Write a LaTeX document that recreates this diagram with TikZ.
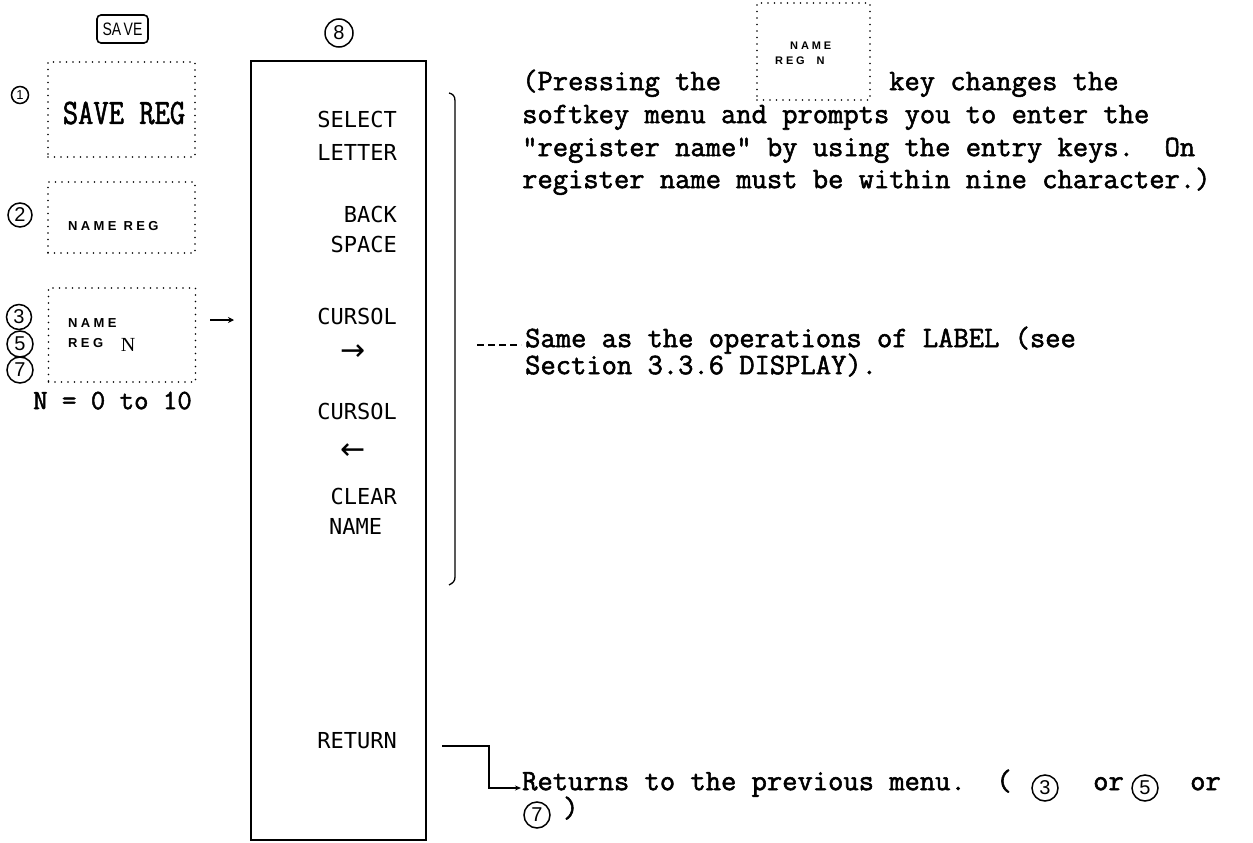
\documentclass[tikz,border=0pt]{standalone}
\usepackage{fontspec}
\usepackage{graphicx}
\usetikzlibrary{arrows.meta}
\newfontfamily\tw[FakeBold=1.8]{Latin Modern Mono}
\newfontfamily\menufont{DejaVu Sans Mono}
\newfontfamily\keyfont[LetterSpace=26]{Liberation Sans}
\newfontfamily\dv{DejaVu Sans}
\newfontfamily\sansf{Liberation Sans}
\newfontfamily\seriff{Liberation Serif}
\frenchspacing
\begin{document}
\begin{tikzpicture}[x=1pt,y=-1pt,
  dotbox/.style={draw, line width=1.6pt, dash pattern=on 0pt off 6.5pt, line cap=round, inner sep=0pt},
  cnum/.style={circle, draw, line width=1.5pt, inner sep=0pt, minimum size=26pt, font=\sansf\fontsize{20}{20}\selectfont},
  twtext/.style={font=\tw\fontsize{29.7}{29.7}\selectfont, inner sep=0pt, anchor=mid west},
  menutext/.style={font=\menufont\fontsize{22}{22}\selectfont, inner sep=0pt, anchor=mid east},
  keytext/.style={font=\keyfont\bfseries\fontsize{13}{13}\selectfont, inner sep=0pt, anchor=mid west},
  arrglyph/.style={font=\dv\fontsize{30}{30}\selectfont, inner sep=0pt},
  conn/.style={line width=1.3pt}
]
\useasboundingbox (0,0) rectangle (1253,843);
\fill[white] (0,0) rectangle (1253,843);

% SAVE hard key
\node[draw, line width=1.6pt, rounded corners=4pt, minimum width=51pt, minimum height=28pt, inner sep=0pt,
  font=\sansf\fontsize{18}{18}\selectfont] (savekey) at (122.5,29) {\scalebox{0.78}[1]{SA\,VE}};

% softkey boxes on the left
\node[dotbox, minimum width=147pt, minimum height=95pt] (b1) at (121.5,109.5) {};
\node[font=\tw\fontsize{29.7}{29.7}\selectfont, inner sep=0pt] (b1t) at (124,113) {\scalebox{1}[1.2]{SAVE REG}};
\node[dotbox, minimum width=147pt, minimum height=71pt] (b2) at (121.5,217.5) {};
\node[keytext] (b2t) at (68,228) {NAME REG};
\node[dotbox, minimum width=147pt, minimum height=94pt] (b3) at (122,335) {};
\node[keytext] (b3a) at (68,325) {NAME};
\node[keytext] (b3b) at (68,345) {REG};
\node[font=\seriff\fontsize{20}{20}\selectfont, inner sep=0pt] (b3n) at (128,345) {N};
\node[twtext, font=\tw\fontsize{28}{28}\selectfont] (nrange) at (33,407) {N = 0 to 10};

% circled step numbers
\node[cnum, minimum size=17pt, font=\sansf\fontsize{13}{13}\selectfont] (c1) at (20,95) {1};
\node[cnum, minimum size=24pt] (c2) at (20,215) {2};
\node[cnum, minimum size=25pt] (c3) at (19,317) {3};
\node[cnum] (c5) at (20,344) {5};
\node[cnum] (c7) at (20,370) {7};
\node[cnum, minimum size=28pt] (c8) at (339,33) {8};

% arrow from box 3 to the menu
\coordinate (a3s) at (210,320);
\coordinate (a3e) at (234,320);
\draw[conn, -{Stealth[length=6pt,width=6pt]}] (a3s) -- (a3e);

% the softkey menu
\node[draw, line width=1.4pt, minimum width=175pt, minimum height=779pt, inner sep=0pt] (menu) at (338.5,450.5) {};
\node[menutext] (m1a) at (397,125) {SELECT};
\node[menutext] (m1b) at (397,158) {LETTER};
\node[menutext] (m2a) at (397,220) {BACK};
\node[menutext] (m2b) at (397,250) {SPACE};
\node[menutext] (m3a) at (397,322) {CURSOL};
\node[arrglyph] (m3b) at (353,353) {→};
\node[menutext] (m4a) at (397,417) {CURSOL};
\node[arrglyph] (m4b) at (353,452) {←};
\node[menutext] (m5a) at (397,502) {CLEAR};
\node[menutext, anchor=mid west] (m5b) at (329,532) {NAME};
\node[menutext] (m6) at (397,746) {RETURN};

% bracket
\coordinate (brT) at (449,93);
\coordinate (brB) at (449,585);
\draw[conn] (brT) .. controls (453,94) and (455,96) .. (455,101) -- (455,577) .. controls (455,581) and (453,583) .. (brB);

% explanatory text at the top right
\node[twtext] (p1a) at (522,88) {(Pressing the};
\node[dotbox, minimum width=113pt, minimum height=97pt] (topkey) at (813.5,51.5) {};
\node[keytext, font=\keyfont\bfseries\fontsize{11}{11}\selectfont] (tk1) at (790,47) {NAME};
\node[keytext, font=\keyfont\bfseries\fontsize{11}{11}\selectfont] (tk2) at (775,62) {REG\ \ N};
\node[twtext] (p1b) at (889,88) {key changes the};
\node[twtext] (p2) at (522,121) {softkey menu and prompts you to enter the};
\node[twtext] (p3) at (522,154) {"register name" by using the entry keys.~ On};
\node[twtext] (p4) at (522,186) {register name must be within nine character.)};

% same-as note
\coordinate (dl1) at (477,345);
\coordinate (dl2) at (521,345);
\draw[conn, dash pattern=on 7pt off 4pt] (dl1) -- (dl2);
\node[twtext] (s1) at (525,345) {Same as the operations of LABEL (see};
\node[twtext] (s2) at (525,372) {Section 3.3.6 DISPLAY).};

% return note
\node[twtext] (r1) at (522,788) {Returns to the previous menu.~ (};
\node[cnum] (rc3) at (1045,788) {3};
\node[twtext] (r2) at (1093,788) {or};
\node[cnum] (rc5) at (1145,788) {5};
\node[twtext] (r3) at (1190,788) {or};
\node[cnum] (rc7) at (537,815) {7};
\node[twtext] (r4) at (563,815) {)};
\coordinate (rl) at (442,746);
\coordinate (rc) at (489,746);
\coordinate (rt) at (521,788);
\draw[conn, -{Stealth[length=6pt,width=5pt]}] (rl) -- (rc) |- (rt);
\end{tikzpicture}
\end{document}
